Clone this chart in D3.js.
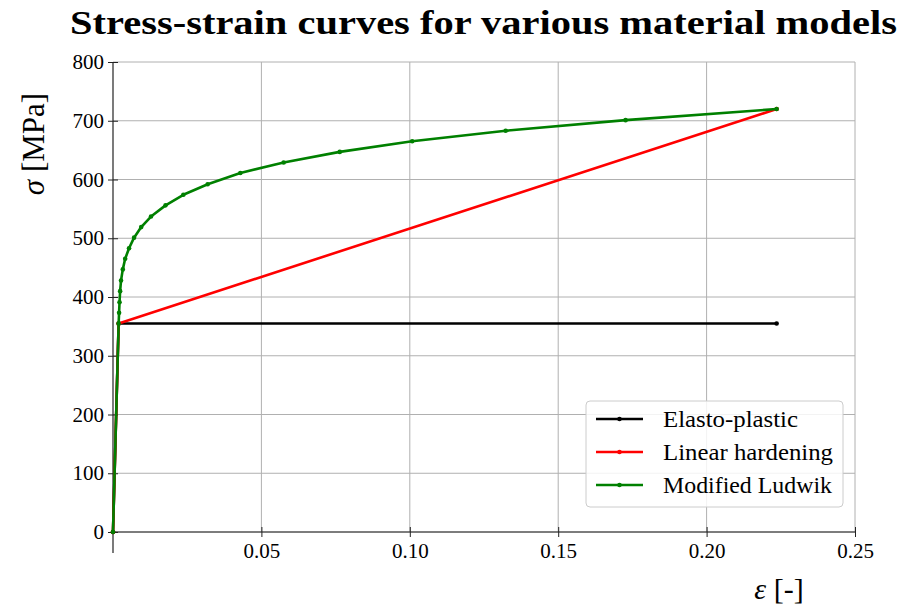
<!DOCTYPE html>
<html>
<head>
<meta charset="utf-8">
<script src="https://d3js.org/d3.v7.min.js"></script>
<style>
  body { margin: 0; background: #fff; }
  svg text { font-family: "Liberation Serif", "DejaVu Serif", serif; fill: #000; }
</style>
</head>
<body>
<div id="chart"></div>
<script>
// strain [-] and stress [MPa]
const elastoStrain = [0, 0.0019, 0.2236];
const elastoStress = [0, 355, 355];

const linearStrain = [0, 0.0019, 0.2236];
const linearStress = [0, 355, 720];

const ludwikStrain = [0, 0.0019, 0.00205, 0.0022, 0.0024, 0.0027, 0.0033, 0.0041, 0.0054, 0.0071,
    0.0095, 0.0128, 0.0177, 0.0237, 0.0319, 0.0429, 0.0575, 0.0764, 0.1008, 0.1323, 0.1727, 0.2236];
const ludwikStress = [0, 355, 373, 391, 410, 428, 447, 465, 483, 501,
    519, 537, 556, 574, 592, 611, 629, 647, 665, 683, 701, 720];

const xTicks = [0.05, 0.10, 0.15, 0.20, 0.25];
const yTicks = [0, 100, 200, 300, 400, 500, 600, 700, 800];

const seriesNames = ["Elasto-plastic", "Linear hardening", "Modified Ludwik"];
const seriesColors = ["#000000", "#ff0000", "#008000"];

const series = [
    { name: seriesNames[0], color: seriesColors[0], pts: elastoStrain.map((e, i) => ({ e: e, s: elastoStress[i] })) },
    { name: seriesNames[1], color: seriesColors[1], pts: linearStrain.map((e, i) => ({ e: e, s: linearStress[i] })) },
    { name: seriesNames[2], color: seriesColors[2], pts: ludwikStrain.map((e, i) => ({ e: e, s: ludwikStress[i] })) }
];

const width = 899, height = 607;
const margin = { top: 62, right: 44, bottom: 75, left: 113 };
const w = width - margin.left - margin.right,
    h = height - margin.top - margin.bottom;

const svg = d3.select("#chart").append("svg")
    .attr("width", width)
    .attr("height", height);

const g = svg.append("g")
    .attr("transform", "translate(" + margin.left + "," + margin.top + ")");

const x = d3.scaleLinear().domain([0, 0.25]).range([0, w]);
const y = d3.scaleLinear().domain([0, 800]).range([h, 0]);

// grid
g.append("g").selectAll("line.vg")
    .data(xTicks).enter().append("line")
    .attr("x1", d => x(d)).attr("x2", d => x(d))
    .attr("y1", 0).attr("y2", h)
    .attr("stroke", "#b0b0b0").attr("stroke-width", 1);
g.append("g").selectAll("line.hg")
    .data(yTicks).enter().append("line")
    .attr("x1", 0).attr("x2", w)
    .attr("y1", d => y(d)).attr("y2", d => y(d))
    .attr("stroke", "#b0b0b0").attr("stroke-width", 1);

// axes
const xAxis = g.append("g")
    .attr("transform", "translate(0," + h + ")")
    .call(d3.axisBottom(x).tickValues(xTicks).tickFormat(d3.format(".2f")).tickSize(5).tickSizeOuter(0));
const yAxis = g.append("g")
    .call(d3.axisLeft(y).tickValues(yTicks).tickFormat(d3.format("d")).tickSize(5).tickSizeOuter(0));

[xAxis, yAxis].forEach(ax => {
    ax.select(".domain").remove();
    ax.selectAll("text").style("font-size", "21px").style("font-family", "Liberation Serif, serif");
});
xAxis.selectAll(".tick line").attr("y1", -5).attr("y2", 5).attr("stroke", "#222");
xAxis.selectAll("text").attr("y", 11);
yAxis.selectAll(".tick line").attr("x1", 5).attr("x2", -5).attr("stroke", "#222");
yAxis.selectAll("text").attr("x", -9);

// spines
g.append("line").attr("x1", 0).attr("x2", w).attr("y1", h).attr("y2", h)
    .attr("stroke", "#222").attr("stroke-width", 1.2);
g.append("line").attr("x1", 0).attr("x2", 0).attr("y1", 0).attr("y2", h + 21)
    .attr("stroke", "#222").attr("stroke-width", 1.2);

// curves
const line = d3.line().x(d => x(d.e)).y(d => y(d.s));
series.forEach(sr => {
    g.append("path")
        .datum(sr.pts)
        .attr("d", line)
        .attr("fill", "none")
        .attr("stroke", sr.color)
        .attr("stroke-width", 2.6)
        .attr("stroke-linejoin", "round");
    g.selectAll(null)
        .data(sr.pts).enter().append("circle")
        .attr("cx", d => x(d.e))
        .attr("cy", d => y(d.s))
        .attr("r", 2.3)
        .attr("fill", sr.color);
});

// legend
const legendTextLen = [135, 170, 169];
const legend = svg.append("g").attr("transform", "translate(586,401)");
legend.append("rect")
    .attr("width", 257).attr("height", 106)
    .attr("rx", 4).attr("ry", 4)
    .attr("fill", "#fff").attr("fill-opacity", 0.85)
    .attr("stroke", "#cccccc").attr("stroke-width", 1);
series.forEach((sr, i) => {
    const ly = 18 + i * 33;
    legend.append("line")
        .attr("x1", 10).attr("x2", 57)
        .attr("y1", ly).attr("y2", ly)
        .attr("stroke", sr.color).attr("stroke-width", 2.6);
    legend.append("circle")
        .attr("cx", 33.5).attr("cy", ly).attr("r", 2.3).attr("fill", sr.color);
    legend.append("text")
        .attr("x", 77).attr("y", ly + 8)
        .attr("textLength", legendTextLen[i])
        .attr("lengthAdjust", "spacingAndGlyphs")
        .style("font-size", "23px")
        .text(sr.name);
});

// title and labels
svg.append("text")
    .attr("x", 70).attr("y", 34)
    .attr("textLength", 827)
    .attr("lengthAdjust", "spacingAndGlyphs")
    .style("font-size", "34px")
    .style("font-weight", "bold")
    .text("Stress-strain curves for various material models");

svg.append("text")
    .attr("transform", "translate(44,144) rotate(-90)")
    .attr("text-anchor", "middle")
    .style("font-size", "31px")
    .html("<tspan font-style='italic'>σ</tspan> [MPa]");

svg.append("text")
    .attr("x", 779).attr("y", 599)
    .attr("text-anchor", "middle")
    .style("font-size", "30px")
    .html("<tspan font-style='italic'>ε</tspan> [-]");
</script>
</body>
</html>
